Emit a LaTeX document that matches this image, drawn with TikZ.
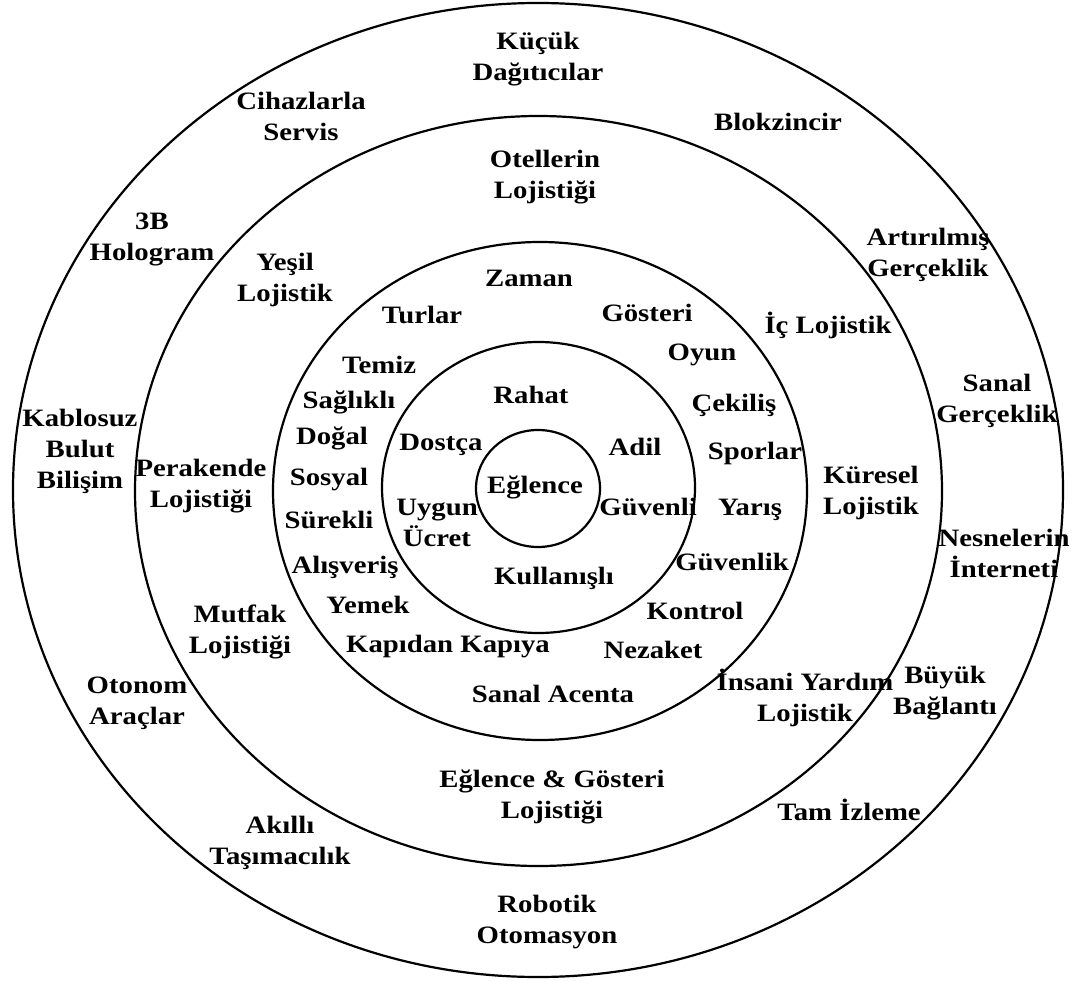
\documentclass[tikz,border=0pt]{standalone}
\usepackage{fontspec}
\setmainfont{Liberation Serif}[FakeStretch=1.15]
\usetikzlibrary{shapes.geometric}
\begin{document}
\begin{tikzpicture}[x=1pt,y=-1pt,
  ring/.style={draw, ellipse, line width=2.2pt, inner sep=0pt},
  lbl/.style={font=\fontsize{25}{31}\selectfont\bfseries, align=center, inner sep=0pt}]
\useasboundingbox (0,0) rectangle (1075,981);
% rings
\node[ring, minimum width=1050pt, minimum height=974pt] (r1) at (538,490) {};
\node[ring, minimum width=807pt, minimum height=750pt] (r2) at (538.5,491) {};
\node[ring, minimum width=534pt, minimum height=498pt] (r3) at (540,491) {};
\node[ring, minimum width=313pt, minimum height=291pt] (r4) at (538.5,487.5) {};
\node[ring, minimum width=124pt, minimum height=117pt] (r5) at (538,488.5) {};
% outer ring
\node[lbl] (k1) at (538,59) {Küçük\\Dağıtıcılar};
\node[lbl] (k2) at (301,116) {Cihazlarla\\Servis};
\node[lbl] (k3) at (778,122) {Blokzincir};
\node[lbl] (k4) at (152,239) {3B\\Hologram};
\node[lbl] (k5) at (928,255) {Artırılmış\\Gerçeklik};
\node[lbl] (k6) at (80,451) {Kablosuz\\Bulut\\Bilişim};
\node[lbl] (k7) at (997,401) {Sanal\\Gerçeklik};
\node[lbl] (k8) at (1004,553) {Nesnelerin\\İnterneti};
\node[lbl] (k9) at (137,703) {Otonom\\Araçlar};
\node[lbl] (k10) at (945,693) {Büyük\\Bağlantı};
\node[lbl] (k11) at (280,843) {Akıllı\\Taşımacılık};
\node[lbl] (k12) at (849,810) {Tam İzleme};
\node[lbl] (k13) at (547,922) {Robotik\\Otomasyon};
% second ring
\node[lbl] (o1) at (545,177) {Otellerin\\Lojistiği};
\node[lbl] (o2) at (285,280) {Yeşil\\Lojistik};
\node[lbl] (o3) at (828,325) {İç Lojistik};
\node[lbl] (o4) at (201,486) {Perakende\\Lojistiği};
\node[lbl] (o5) at (871,493) {Küresel\\Lojistik};
\node[lbl] (o6) at (240,632) {Mutfak\\Lojistiği};
\node[lbl] (o7) at (805,698) {İnsani Yardım\\Lojistik};
\node[lbl] (o8) at (552,797) {Eğlence \& Gösteri\\Lojistiği};
% third ring
\node[lbl] (t1) at (529,278) {Zaman};
\node[lbl] (t2) at (422,315) {Turlar};
\node[lbl] (t3) at (647,313) {Gösteri};
\node[lbl] (t4) at (379,365) {Temiz};
\node[lbl] (t5) at (702,355) {Oyun};
\node[lbl] (t6) at (349,402) {Sağlıklı};
\node[lbl] (t7) at (734,405) {Çekiliş};
\node[lbl] (t8) at (332,438) {Doğal};
\node[lbl] (t9) at (755,453) {Sporlar};
\node[lbl] (t10) at (329,480) {Sosyal};
\node[lbl] (t11) at (750,510) {Yarış};
\node[lbl] (t12) at (329,520) {Sürekli};
\node[lbl] (t13) at (732,562) {Güvenlik};
\node[lbl] (t14) at (345,567) {Alışveriş};
\node[lbl] (t15) at (368,605) {Yemek};
\node[lbl] (t16) at (695,611) {Kontrol};
\node[lbl] (t17) at (448,647) {Kapıdan Kapıya};
\node[lbl] (t18) at (653,650) {Nezaket};
\node[lbl] (t19) at (553,694) {Sanal Acenta};
% fourth ring
\node[lbl] (f1) at (531,395) {Rahat};
\node[lbl] (f2) at (441,445) {Dostça};
\node[lbl] (f3) at (635,447) {Adil};
\node[lbl] (f4) at (437,523) {Uygun\\Ücret};
\node[lbl] (f5) at (648,507) {Güvenli};
\node[lbl] (f6) at (554,578) {Kullanışlı};
% centre
\node[lbl] (c) at (535,487) {Eğlence};
\end{tikzpicture}
\end{document}
